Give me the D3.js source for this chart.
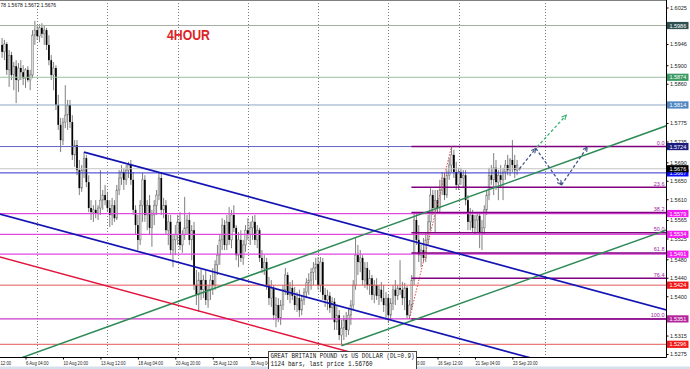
<!DOCTYPE html>
<html>
<head>
<meta charset="utf-8">
<script src="https://cdn.jsdelivr.net/npm/d3@7"></script>
<style>
  body { margin: 0; background: #fff; }
  svg { display: block; font-family: "Liberation Sans", Arial, sans-serif; }
</style>
</head>
<body>
<svg id="chart" width="690" height="369"></svg>
<script>
// GBPUSD H4, bar 0 = 3 Aug 12:00, candles start at bar 6
const firstBar = 6
const candles = [
  [1.5944,1.5959,1.5916,1.5929],[1.5929,1.5955,1.5911,1.5946],[1.5946,1.5950,1.5879,1.5890],[1.5890,1.5933,1.5853,1.5922],
  [1.5922,1.5929,1.5868,1.5879],[1.5879,1.5907,1.5846,1.5898],[1.5898,1.5911,1.5818,1.5868],[1.5868,1.5905,1.5842,1.5894],
  [1.5894,1.5911,1.5868,1.5885],[1.5885,1.5900,1.5857,1.5872],[1.5872,1.5894,1.5851,1.5890],[1.5890,1.5898,1.5864,1.5868],
  [1.5868,1.5890,1.5846,1.5879],[1.5879,1.5976,1.5872,1.5965],[1.5965,1.5996,1.5944,1.5976],[1.5976,1.5987,1.5955,1.5963],
  [1.5963,1.5989,1.5950,1.5981],[1.5981,1.5991,1.5959,1.5968],[1.5968,1.5985,1.5944,1.5976],[1.5976,1.5981,1.5933,1.5944],
  [1.5944,1.5965,1.5900,1.5911],[1.5911,1.5922,1.5868,1.5879],[1.5879,1.5907,1.5846,1.5894],[1.5894,1.5900,1.5803,1.5814],
  [1.5814,1.5836,1.5760,1.5771],[1.5771,1.5786,1.5712,1.5738],[1.5738,1.5786,1.5727,1.5777],[1.5777,1.5857,1.5764,1.5792],
  [1.5792,1.5825,1.5760,1.5814],[1.5814,1.5825,1.5764,1.5777],[1.5777,1.5792,1.5695,1.5706],[1.5706,1.5738,1.5680,1.5727],
  [1.5727,1.5738,1.5662,1.5673],[1.5673,1.5695,1.5619,1.5634],[1.5634,1.5684,1.5626,1.5673],[1.5673,1.5712,1.5656,1.5699],
  [1.5699,1.5706,1.5636,1.5647],[1.5647,1.5662,1.5582,1.5591],[1.5591,1.5608,1.5565,1.5582],[1.5582,1.5597,1.5561,1.5587],
  [1.5587,1.5608,1.5569,1.5580],[1.5580,1.5597,1.5565,1.5591],[1.5591,1.5673,1.5576,1.5608],[1.5608,1.5630,1.5587,1.5619],
  [1.5619,1.5641,1.5597,1.5608],[1.5608,1.5626,1.5582,1.5591],[1.5591,1.5608,1.5550,1.5576],[1.5576,1.5613,1.5554,1.5597],
  [1.5597,1.5608,1.5561,1.5569],[1.5569,1.5641,1.5565,1.5630],[1.5630,1.5673,1.5619,1.5656],[1.5656,1.5684,1.5641,1.5669],
  [1.5669,1.5678,1.5630,1.5652],[1.5652,1.5684,1.5641,1.5673],[1.5673,1.5691,1.5656,1.5684],[1.5684,1.5695,1.5641,1.5652],
  [1.5652,1.5669,1.5576,1.5587],[1.5587,1.5597,1.5533,1.5554],[1.5554,1.5576,1.5500,1.5522],[1.5522,1.5608,1.5511,1.5597],
  [1.5597,1.5667,1.5561,1.5652],[1.5652,1.5662,1.5561,1.5576],[1.5576,1.5608,1.5543,1.5597],[1.5597,1.5619,1.5533,1.5548],
  [1.5548,1.5587,1.5507,1.5576],[1.5576,1.5608,1.5554,1.5597],[1.5597,1.5630,1.5576,1.5619],[1.5619,1.5669,1.5608,1.5656],
  [1.5656,1.5669,1.5576,1.5587],[1.5587,1.5613,1.5569,1.5597],[1.5597,1.5608,1.5533,1.5543],[1.5543,1.5576,1.5511,1.5561],
  [1.5561,1.5576,1.5489,1.5500],[1.5500,1.5533,1.5463,1.5522],[1.5522,1.5554,1.5489,1.5533],[1.5533,1.5576,1.5511,1.5561],
  [1.5561,1.5582,1.5500,1.5511],[1.5511,1.5543,1.5494,1.5533],[1.5533,1.5615,1.5522,1.5548],[1.5548,1.5576,1.5533,1.5565],
  [1.5565,1.5582,1.5511,1.5522],[1.5522,1.5554,1.5478,1.5543],[1.5543,1.5561,1.5414,1.5424],[1.5424,1.5457,1.5381,1.5403],
  [1.5403,1.5452,1.5366,1.5435],[1.5435,1.5461,1.5392,1.5414],[1.5414,1.5446,1.5396,1.5435],[1.5435,1.5457,1.5381,1.5392],
  [1.5392,1.5424,1.5375,1.5414],[1.5414,1.5446,1.5392,1.5435],[1.5435,1.5461,1.5403,1.5424],[1.5424,1.5478,1.5414,1.5468],
  [1.5468,1.5511,1.5446,1.5489],[1.5489,1.5533,1.5468,1.5522],[1.5522,1.5569,1.5500,1.5554],[1.5554,1.5565,1.5500,1.5511],
  [1.5511,1.5576,1.5500,1.5561],[1.5561,1.5593,1.5511,1.5522],[1.5522,1.5587,1.5504,1.5576],[1.5576,1.5597,1.5539,1.5548],
  [1.5548,1.5554,1.5478,1.5489],[1.5489,1.5539,1.5463,1.5522],[1.5522,1.5543,1.5474,1.5483],[1.5483,1.5522,1.5468,1.5511],
  [1.5511,1.5554,1.5496,1.5543],[1.5543,1.5569,1.5522,1.5533],[1.5533,1.5561,1.5511,1.5548],[1.5548,1.5574,1.5522,1.5561],
  [1.5561,1.5576,1.5511,1.5522],[1.5522,1.5554,1.5504,1.5543],[1.5543,1.5548,1.5474,1.5483],[1.5483,1.5500,1.5450,1.5461],
  [1.5461,1.5489,1.5446,1.5474],[1.5474,1.5483,1.5414,1.5424],[1.5424,1.5442,1.5381,1.5396],[1.5396,1.5435,1.5377,1.5418],
  [1.5418,1.5424,1.5349,1.5359],[1.5359,1.5398,1.5333,1.5381],[1.5381,1.5396,1.5344,1.5353],[1.5353,1.5392,1.5338,1.5381],
  [1.5381,1.5424,1.5370,1.5414],[1.5414,1.5461,1.5403,1.5446],[1.5446,1.5452,1.5392,1.5403],[1.5403,1.5431,1.5385,1.5418],
  [1.5418,1.5435,1.5392,1.5401],[1.5401,1.5420,1.5370,1.5381],[1.5381,1.5409,1.5366,1.5396],[1.5396,1.5414,1.5355,1.5370],
  [1.5370,1.5403,1.5359,1.5392],[1.5392,1.5418,1.5381,1.5409],[1.5409,1.5439,1.5396,1.5429],[1.5429,1.5450,1.5403,1.5435],
  [1.5435,1.5461,1.5414,1.5452],[1.5452,1.5474,1.5424,1.5461],[1.5461,1.5483,1.5435,1.5470],[1.5470,1.5485,1.5414,1.5424],
  [1.5424,1.5485,1.5409,1.5474],[1.5474,1.5483,1.5392,1.5403],[1.5403,1.5418,1.5377,1.5392],[1.5392,1.5414,1.5370,1.5401],
  [1.5401,1.5409,1.5364,1.5375],[1.5375,1.5398,1.5353,1.5388],[1.5388,1.5396,1.5327,1.5344],[1.5344,1.5381,1.5327,1.5359],
  [1.5359,1.5370,1.5305,1.5316],[1.5316,1.5349,1.5293,1.5331],[1.5331,1.5359,1.5305,1.5349],[1.5349,1.5366,1.5312,1.5327],
  [1.5327,1.5375,1.5316,1.5359],[1.5359,1.5392,1.5338,1.5381],[1.5381,1.5435,1.5370,1.5424],[1.5424,1.5526,1.5414,1.5489],
  [1.5489,1.5511,1.5446,1.5474],[1.5474,1.5500,1.5452,1.5483],[1.5483,1.5489,1.5424,1.5435],[1.5435,1.5474,1.5418,1.5461],
  [1.5461,1.5474,1.5414,1.5424],[1.5424,1.5457,1.5403,1.5439],[1.5439,1.5446,1.5392,1.5403],[1.5403,1.5435,1.5385,1.5424],
  [1.5424,1.5439,1.5392,1.5401],[1.5401,1.5424,1.5381,1.5414],[1.5414,1.5431,1.5388,1.5396],[1.5396,1.5424,1.5366,1.5381],
  [1.5381,1.5409,1.5349,1.5396],[1.5396,1.5403,1.5342,1.5359],[1.5359,1.5396,1.5349,1.5385],[1.5385,1.5424,1.5370,1.5414],
  [1.5414,1.5435,1.5381,1.5401],[1.5401,1.5424,1.5392,1.5418],[1.5418,1.5478,1.5403,1.5414],[1.5414,1.5431,1.5381,1.5396],
  [1.5396,1.5429,1.5370,1.5418],[1.5418,1.5422,1.5352,1.5359],[1.5359,1.5392,1.5351,1.5381],[1.5381,1.5446,1.5370,1.5435],
  [1.5435,1.5582,1.5424,1.5565],[1.5565,1.5582,1.5511,1.5522],[1.5522,1.5554,1.5474,1.5489],[1.5489,1.5511,1.5463,1.5500],
  [1.5500,1.5526,1.5474,1.5483],[1.5483,1.5539,1.5474,1.5522],[1.5522,1.5576,1.5511,1.5561],[1.5561,1.5634,1.5543,1.5619],
  [1.5619,1.5630,1.5576,1.5591],[1.5591,1.5630,1.5537,1.5608],[1.5608,1.5630,1.5582,1.5591],[1.5591,1.5652,1.5582,1.5630],
  [1.5630,1.5669,1.5619,1.5656],[1.5656,1.5667,1.5608,1.5619],[1.5619,1.5673,1.5613,1.5662],[1.5662,1.5699,1.5652,1.5684],
  [1.5684,1.5724,1.5669,1.5706],[1.5706,1.5717,1.5656,1.5669],[1.5669,1.5691,1.5630,1.5641],[1.5641,1.5678,1.5630,1.5669],
  [1.5669,1.5678,1.5641,1.5656],[1.5656,1.5673,1.5634,1.5662],[1.5662,1.5673,1.5597,1.5608],[1.5608,1.5619,1.5543,1.5561],
  [1.5561,1.5591,1.5543,1.5576],[1.5576,1.5587,1.5537,1.5548],[1.5548,1.5576,1.5533,1.5565],[1.5565,1.5582,1.5539,1.5574],
  [1.5574,1.5578,1.5504,1.5539],[1.5539,1.5565,1.5500,1.5548],[1.5548,1.5597,1.5533,1.5587],[1.5587,1.5630,1.5576,1.5619],
  [1.5619,1.5678,1.5608,1.5662],[1.5662,1.5684,1.5641,1.5652],[1.5652,1.5710,1.5619,1.5678],[1.5678,1.5695,1.5630,1.5647],
  [1.5647,1.5673,1.5608,1.5662],[1.5662,1.5684,1.5634,1.5652],[1.5652,1.5678,1.5608,1.5669],[1.5669,1.5695,1.5652,1.5684],
  [1.5684,1.5706,1.5662,1.5673],[1.5673,1.5699,1.5660,1.5695],[1.5695,1.5738,1.5669,1.5684],[1.5684,1.5706,1.5656,1.5673],
  [1.5673,1.5695,1.5662,1.5684],[1.5674,1.5678,1.5672,1.5676]
]

// labels hidden under the info box (1, 6, 9 Sep) are left out
const timeLabels = [
  [0, "3 Aug 12:00"], [16, "6 Aug 04:00"], [32, "10 Aug 20:00"], [48, "13 Aug 12:00"],
  [64, "18 Aug 04:00"], [80, "20 Aug 20:00"], [96, "25 Aug 12:00"], [112, "30 Aug 04:00"],
  [176, "13 Sep 20:00"], [192, "16 Sep 12:00"], [208, "21 Sep 04:00"], [224, "23 Sep 20:00"]
]
const weekStarts = [21, 51, 81, 111, 141, 171, 201, 238]

const priceTicks = [1.6025, 1.5946, 1.5900, 1.5860, 1.5775, 1.5735, 1.5690, 1.5650,
  1.5610, 1.5565, 1.5525, 1.5480, 1.5440, 1.5400, 1.5315, 1.5275]

const levels = [
  { price: 1.5986, kind: "slate" },
  { price: 1.5874, kind: "green" },
  { price: 1.5814, kind: "steel" },
  { price: 1.5724, kind: "navy" },
  { price: 1.5667, kind: "blue" },
  { price: 1.5579, kind: "magenta" },
  { price: 1.5534, kind: "magenta" },
  { price: 1.5491, kind: "magenta" },
  { price: 1.5424, kind: "red" },
  { price: 1.5351, kind: "violet" },
  { price: 1.5296, kind: "red" }
]
const lastPrice = 1.5676

// fibonacci retracement: anchors (bar, price)
const fiboLow = [180, 1.5351]
const fiboHigh = [198, 1.5724]
const fiboRatios = [0, 23.6, 38.2, 50, 61.8, 76.4, 100]

// trend lines [bar, price] -> [bar, price], rays extend to the right edge
const trends = [
  { a: [10, 1.5259], b: [185, 1.5578], kind: "green", ray: true },
  { a: [151, 1.5293], b: [227, 1.5430], kind: "green", ray: true },
  { a: [41, 1.5712], b: [290, 1.5370], kind: "blue", ray: true },
  { a: [0, 1.5585], b: [230, 1.5269], kind: "blue", ray: true },
  { a: [0, 1.5492], b: [170, 1.5258], kind: "red", ray: true }
]

// projected path arrows
const arrows = [
  { a: [227, 1.5676], b: [234, 1.5720], kind: "slate" },
  { a: [234.5, 1.5723], b: [247, 1.5792], kind: "green" },
  { a: [234, 1.5720], b: [245, 1.5641], kind: "slate" },
  { a: [245, 1.5641], b: [256, 1.5723], kind: "slate" }
]

const levelStyle = {
  slate:   { line: "#a6aea6", box: "#2f4f4f" },
  green:   { line: "#9cbca4", box: "#3a9a62" },
  steel:   { line: "#8ea6c6", box: "#4f86bf" },
  navy:    { line: "#6464c4", box: "#1c1c80" },
  blue:    { line: "#3030d0", box: "#0a0aff" },
  magenta: { line: "#e048e0", box: "#f01cf0" },
  violet:  { line: "#c838c8", box: "#b4249b" },
  red:     { line: "#e45a5a", box: "#f01818" }
}
const trendColor = { green: "#2e8b57", blue: "#1414b4", red: "#e0143c" }
const arrowColor = { slate: "#44568c", green: "#3cb371" }

const svg = d3.select("#chart")
const W = 666, H = 357

const x = d3.scaleLinear().domain([16, 224]).range([25.5, 512.4])
const y = d3.scaleLinear().domain([1.5275, 1.6025]).range([354, 7.5])

const defs = svg.append("defs")
defs.append("clipPath").attr("id", "plot")
  .append("rect").attr("width", W).attr("height", H)

Object.keys(arrowColor).forEach(k => {
  defs.append("marker")
    .attr("id", "head-" + k)
    .attr("viewBox", "0 0 8 8")
    .attr("refX", 7).attr("refY", 4)
    .attr("markerWidth", 6).attr("markerHeight", 6)
    .attr("markerUnits", "userSpaceOnUse")
    .attr("orient", "auto")
    .append("path")
    .attr("d", "M1,1 L7,4 L1,7")
    .attr("fill", "none")
    .attr("stroke", arrowColor[k])
    .attr("stroke-width", 1.4)
})

const plot = svg.append("g").attr("clip-path", "url(#plot)")

// weekly dotted grid
plot.selectAll(".grid").data(weekStarts).join("line")
  .attr("x1", d => Math.round(x(d)) + 0.5)
  .attr("x2", d => Math.round(x(d)) + 0.5)
  .attr("y1", 0).attr("y2", H)
  .attr("stroke", "#7c7c7c")
  .attr("stroke-width", 1)
  .attr("stroke-dasharray", "1,2")

// candles
const bars = candles.map((c, k) => ({ i: firstBar + k, o: c[0], h: c[1], l: c[2], c: c[3] }))

plot.selectAll(".wick").data(bars).join("line")
  .attr("x1", d => x(d.i)).attr("x2", d => x(d.i))
  .attr("y1", d => y(d.h)).attr("y2", d => y(d.l))
  .attr("stroke", "#707070")
  .attr("stroke-width", 0.9)

plot.selectAll(".body").data(bars).join("rect")
  .attr("x", d => x(d.i) - 0.85)
  .attr("width", 1.7)
  .attr("y", d => y(Math.max(d.o, d.c)))
  .attr("height", d => Math.max(0.7, Math.abs(y(d.o) - y(d.c))))
  .attr("fill", d => d.c >= d.o ? "#dcdcdc" : "#000")
  .attr("stroke", d => d.c >= d.o ? "#707070" : "none")
  .attr("stroke-width", 0.5)

// bid line
plot.append("line")
  .attr("x1", 0).attr("x2", W)
  .attr("y1", y(lastPrice)).attr("y2", y(lastPrice))
  .attr("stroke", "#c4c4c4")

// horizontal levels
plot.selectAll(".level").data(levels).join("line")
  .attr("x1", 0).attr("x2", W)
  .attr("y1", d => y(d.price)).attr("y2", d => y(d.price))
  .attr("stroke", d => levelStyle[d.kind].line)
  .attr("stroke-width", d => d.kind == "magenta" || d.kind == "violet" ? 1.3 : 1)

// fibo levels
const fibo = fiboRatios.map(r => ({ r: r, price: fiboHigh[1] - r / 100 * (fiboHigh[1] - fiboLow[1]) }))
plot.selectAll(".fibo").data(fibo).join("line")
  .attr("x1", x(fiboLow[0]) + 2).attr("x2", W)
  .attr("y1", d => y(d.price)).attr("y2", d => y(d.price))
  .attr("stroke", "#800080")
  .attr("stroke-width", 1.5)

plot.selectAll(".fibotext").data(fibo).join("text")
  .attr("x", W - 1.5)
  .attr("y", d => y(d.price) - 1.6)
  .attr("text-anchor", "end")
  .attr("font-size", 5.5)
  .attr("fill", "#a020a0")
  .text(d => d3.format(".1f")(d.r))

plot.append("line")
  .attr("x1", x(fiboLow[0])).attr("y1", y(fiboLow[1]))
  .attr("x2", x(fiboHigh[0])).attr("y2", y(fiboHigh[1]))
  .attr("stroke", "#e04848")
  .attr("stroke-width", 1)
  .attr("stroke-dasharray", "1.5,1.5")

// trend lines
const rightBar = x.invert(W + 10)
plot.selectAll(".trend").data(trends).join("line")
  .each(function (d) {
    const slope = (d.b[1] - d.a[1]) / (d.b[0] - d.a[0])
    const endBar = d.ray ? rightBar : d.b[0]
    d3.select(this)
      .attr("x1", x(d.a[0])).attr("y1", y(d.a[1]))
      .attr("x2", x(endBar)).attr("y2", y(d.a[1] + slope * (endBar - d.a[0])))
  })
  .attr("stroke", d => trendColor[d.kind])
  .attr("stroke-width", d => d.kind == "blue" ? 1.7 : 1.5)

// projection arrows
plot.selectAll(".arrow").data(arrows).join("line")
  .attr("x1", d => x(d.a[0])).attr("y1", d => y(d.a[1]))
  .attr("x2", d => x(d.b[0])).attr("y2", d => y(d.b[1]))
  .attr("stroke", d => arrowColor[d.kind])
  .attr("stroke-width", 1.3)
  .attr("stroke-dasharray", "3,2.2")
  .attr("marker-end", d => "url(#head-" + d.kind + ")")

// title + header
svg.append("text")
  .attr("x", 167).attr("y", 39.5)
  .attr("font-size", 14).attr("font-weight", "bold")
  .attr("fill", "#e01e26")
  .attr("textLength", 43).attr("lengthAdjust", "spacingAndGlyphs")
  .text("4HOUR")

svg.append("text")
  .attr("x", 0.5).attr("y", 6.5)
  .attr("font-size", 5)
  .attr("fill", "#111")
  .text("78 1.5678 1.5672 1.5676")

// frame
svg.append("line").attr("x1", 0).attr("x2", W + 0.5).attr("y1", 0.5).attr("y2", 0.5).attr("stroke", "#808080")
svg.append("line").attr("x1", W + 0.5).attr("x2", W + 0.5).attr("y1", 0).attr("y2", H + 0.5).attr("stroke", "#000")
svg.append("line").attr("x1", 0).attr("x2", W + 0.5).attr("y1", H + 0.5).attr("y2", H + 0.5).attr("stroke", "#000")

// price axis
const yAxis = svg.append("g")
  .attr("transform", "translate(" + (W + 0.5) + ",0)")
  .call(d3.axisRight(y).tickValues(priceTicks).tickSize(2).tickFormat(d3.format(".4f")))
yAxis.select(".domain").remove()
yAxis.selectAll("line").attr("stroke", "#000")
yAxis.selectAll("text")
  .attr("x", 3.5).attr("dy", "0.34em")
  .attr("font-size", 5.5)
  .attr("font-family", "Liberation Sans, Arial, sans-serif")
  .attr("fill", "#222")

// time axis
const xAxis = svg.append("g")
  .attr("transform", "translate(0," + (H + 0.5) + ")")
  .call(d3.axisBottom(x).tickValues(timeLabels.map(d => d[0])).tickSize(2)
    .tickFormat(d => timeLabels.find(t => t[0] == d)[1]))
xAxis.select(".domain").remove()
xAxis.selectAll("line").attr("stroke", "#000")
xAxis.selectAll("text")
  .attr("y", 7.5).attr("dy", 0)
  .attr("text-anchor", "start")
  .attr("font-size", 5.5)
  .attr("font-family", "Liberation Sans, Arial, sans-serif")
  .attr("fill", "#222")
  .attr("textLength", function () { return this.textContent.length * 2.05 })
  .attr("lengthAdjust", "spacingAndGlyphs")

// price boxes on the axis
const boxes = levels.map(d => ({ price: d.price, fill: levelStyle[d.kind].box }))
boxes.push({ price: lastPrice, fill: "#000" })
const boxG = svg.selectAll(".pbox").data(boxes).join("g")
  .attr("transform", d => "translate(" + (W + 1) + "," + y(d.price) + ")")
boxG.append("rect")
  .attr("x", 0).attr("y", -3.6)
  .attr("width", 21.5).attr("height", 7.2)
  .attr("fill", d => d.fill)
boxG.append("text")
  .attr("x", 10.8).attr("y", 2)
  .attr("text-anchor", "middle")
  .attr("font-size", 5.5)
  .attr("fill", "#fff")
  .text(d => d3.format(".4f")(d.price))

// window bottom strip
svg.append("rect").attr("x", 0).attr("y", 366.5).attr("width", 690).attr("height", 3).attr("fill", "#d6e0ec")

// symbol info box
const info = svg.append("g")
info.append("rect")
  .attr("x", 268.5).attr("y", 351.5).attr("width", 148).attr("height", 20)
  .attr("fill", "#fff").attr("stroke", "#444")
info.append("text")
  .attr("x", 270.5).attr("y", 358.3)
  .attr("font-family", "Liberation Mono, monospace").attr("font-size", 6.6)
  .attr("fill", "#111")
  .attr("textLength", 144).attr("lengthAdjust", "spacingAndGlyphs")
  .text("GREAT BRITAIN POUND vs US DOLLAR (DL=0.9)")
info.append("text")
  .attr("x", 270.5).attr("y", 366)
  .attr("font-family", "Liberation Mono, monospace").attr("font-size", 6.6)
  .attr("fill", "#111")
  .attr("textLength", 102).attr("lengthAdjust", "spacingAndGlyphs")
  .text("1124 bars, last price 1.56760")
</script>
</body>
</html>
